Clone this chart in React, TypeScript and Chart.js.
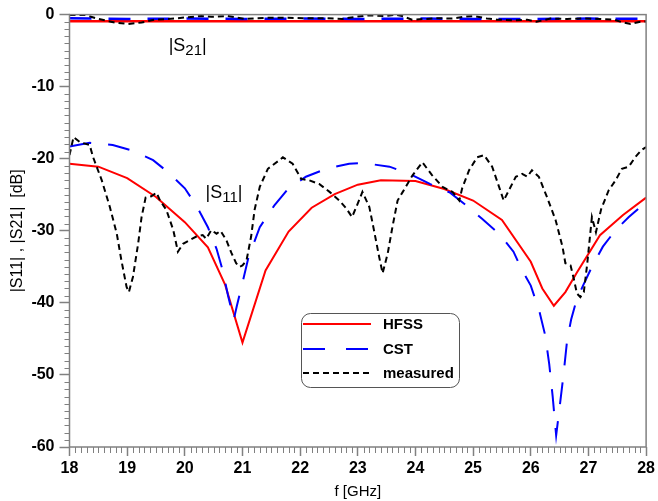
import React, { useEffect, useRef } from "react";
import { Chart, registerables } from "chart.js";

Chart.register(...registerables);

// ---------- data ----------
const hfssS11Freq = [18.0, 18.5, 19.0, 19.5, 20.0, 20.4, 20.7, 21.0, 21.4, 21.8, 22.2, 22.6, 23.0, 23.4, 24.0, 24.5, 25.0, 25.5, 26.0, 26.2, 26.4, 26.6, 26.8, 27.2, 27.6, 28.0];
const hfssS11Db = [-20.7, -21.1, -22.7, -25.3, -28.8, -32.3, -37.5, -45.5, -35.5, -30.1, -26.8, -24.9, -23.6, -23.0, -23.1, -24.2, -25.8, -28.5, -34.3, -38.0, -40.4, -38.5, -35.8, -30.6, -27.8, -25.4];

const cstS11Freq = [18.0, 18.35, 18.75, 19.1, 19.45, 19.7, 20.0, 20.2, 20.4, 20.55, 20.65, 20.75, 20.85, 20.9, 21.0, 21.1, 21.3, 21.55, 21.8, 22.1, 22.45, 22.85, 23.1, 23.55, 23.9, 24.25, 24.6, 24.9, 25.15, 25.45, 25.7, 25.85, 26.0, 26.15, 26.25, 26.32, 26.38, 26.44, 26.5, 26.57, 26.63, 26.7, 26.78, 26.9, 27.06, 27.25, 27.47, 27.7, 28.0];
const cstS11Db = [-18.3, -17.8, -18.1, -18.9, -20.2, -21.8, -24.1, -26.5, -29.5, -32.5, -35.3, -39.0, -42.3, -40.5, -37.2, -33.8, -29.5, -26.5, -24.1, -22.5, -21.4, -20.7, -20.6, -21.1, -22.1, -23.5, -24.7, -26.6, -28.3, -30.4, -32.9, -35.5, -37.6, -41.2, -44.5, -48.5, -53.0, -58.4, -54.5, -49.8, -45.2, -42.3, -40.0, -37.7, -35.0, -32.2, -29.9, -28.1, -26.0];

const measS11Freq = [18.0, 18.07, 18.18, 18.35, 18.41, 18.56, 18.7, 18.82, 18.9, 18.99, 19.03, 19.1, 19.19, 19.25, 19.32, 19.42, 19.51, 19.57, 19.68, 19.8, 19.88, 19.97, 20.08, 20.2, 20.31, 20.37, 20.46, 20.55, 20.62, 20.72, 20.81, 20.89, 20.95, 21.0, 21.07, 21.15, 21.21, 21.3, 21.44, 21.64, 21.7, 21.87, 22.02, 22.16, 22.33, 22.51, 22.68, 22.8, 22.9, 23.0, 23.08, 23.2, 23.28, 23.37, 23.43, 23.52, 23.6, 23.69, 23.78, 23.95, 24.12, 24.29, 24.47, 24.64, 24.76, 24.81, 24.93, 25.07, 25.19, 25.33, 25.45, 25.53, 25.62, 25.74, 25.85, 25.94, 26.02, 26.14, 26.28, 26.43, 26.55, 26.6, 26.69, 26.75, 26.8, 26.86, 26.92, 26.98, 27.06, 27.13, 27.22, 27.35, 27.47, 27.58, 27.7, 27.81, 27.92, 28.0];
const measS11Db = [-19.5, -17.0, -17.7, -18.1, -19.8, -23.0, -26.7, -30.4, -34.1, -37.8, -38.5, -36.4, -31.8, -28.1, -25.4, -25.2, -24.7, -25.8, -27.1, -29.9, -32.9, -31.8, -31.3, -30.8, -30.6, -31.1, -29.9, -30.4, -30.0, -31.3, -33.1, -34.5, -35.0, -34.8, -34.1, -30.8, -27.1, -23.9, -21.4, -20.2, -19.8, -20.7, -22.8, -23.0, -23.5, -24.6, -25.8, -26.9, -28.1, -26.2, -24.6, -26.7, -29.9, -33.6, -35.9, -33.1, -29.5, -25.8, -24.6, -22.3, -20.5, -22.3, -23.9, -24.6, -25.8, -24.1, -21.6, -19.8, -19.5, -21.1, -23.9, -25.8, -24.4, -22.5, -22.1, -22.5, -21.6, -22.5, -25.3, -28.5, -32.2, -34.5, -34.8, -36.8, -38.7, -39.2, -38.5, -34.5, -28.1, -30.2, -27.0, -24.4, -23.0, -21.4, -21.1, -19.8, -18.8, -18.4];

const hfssS21Freq = [18.0, 28.0];
const hfssS21Db = [-0.93, -0.93];

const cstS21Freq = [18.0, 19.0, 20.0, 21.0, 22.0, 23.0, 24.0, 25.0, 26.0, 27.0, 28.0];
const cstS21Db = [-0.5, -0.6, -0.55, -0.6, -0.55, -0.6, -0.55, -0.6, -0.6, -0.55, -0.6];

const measS21Freq = [18.0, 18.27, 18.5, 18.79, 19.02, 19.25, 19.48, 19.83, 20.0, 20.29, 20.46, 20.74, 21.04, 21.26, 21.41, 21.76, 22.05, 22.45, 22.73, 22.97, 23.2, 23.49, 23.66, 23.77, 23.94, 24.18, 24.41, 24.64, 24.84, 25.02, 25.24, 25.41, 25.7, 25.94, 26.1, 26.34, 26.63, 26.92, 27.2, 27.44, 27.6, 27.73, 27.9, 28.0];
const measS21Db = [-0.05, -0.05, -0.6, -1.1, -1.3, -1.1, -0.7, -0.55, -0.4, -0.2, -0.3, -0.2, -0.6, -0.5, -0.45, -0.45, -0.5, -0.5, -0.6, -0.3, -0.1, -0.2, 0.0, -0.2, -0.7, -0.6, -0.5, -0.55, -0.3, -0.2, -0.55, -0.7, -0.8, -0.7, -1.0, -0.55, -0.6, -0.55, -0.6, -0.7, -1.1, -1.3, -1.0, -0.95];

const legendLabels = ["HFSS", "CST", "measured"];
const xTickMin = 18;
const xTickMax = 28;
const yTickMin = -60;
const yTickMax = 0;

// ---------- styles ----------
const RED = "#ff0000";
const BLUE = "#0000ff";
const BLACK = "#000000";
const AXIS = "#808080";
const FONT = "'Liberation Sans', Arial, Helvetica, sans-serif";
const DASH_CST = [22, 17];
const DASH_MEAS = [6, 4];

const pts = (xs: number[], ys: number[]) => xs.map((x, i) => ({ x, y: ys[i] }));

const decorPlugin = {
  id: "decor",
  afterDraw(chart: any) {
    const { ctx, chartArea: a, scales } = chart;
    const xs = scales.x;
    const ys = scales.y;
    ctx.save();
    // frame
    ctx.strokeStyle = AXIS;
    ctx.lineWidth = 1.5;
    ctx.setLineDash([]);
    ctx.strokeRect(a.left, a.top, a.right - a.left, a.bottom - a.top);
    // minor ticks
    ctx.lineWidth = 1;
    ctx.beginPath();
    for (let v = yTickMin; v <= yTickMax; v += 1) {
      if (v % 10 === 0) continue;
      const py = Math.round(ys.getPixelForValue(v)) + 0.5;
      ctx.moveTo(a.left - 5, py);
      ctx.lineTo(a.left, py);
    }
    for (let i = 0; i <= (xTickMax - xTickMin) * 10; i++) {
      if (i % 10 === 0) continue;
      const px = Math.round(xs.getPixelForValue(xTickMin + i / 10)) + 0.5;
      ctx.moveTo(px, a.bottom);
      ctx.lineTo(px, a.bottom + 6);
    }
    ctx.stroke();

    // annotations |S21| and |S11|
    const drawS = (label: string, fx: number, fy: number) => {
      let px = xs.getPixelForValue(fx);
      const py = ys.getPixelForValue(fy);
      ctx.fillStyle = BLACK;
      ctx.textBaseline = "alphabetic";
      ctx.textAlign = "left";
      ctx.font = `18px ${FONT}`;
      ctx.fillText("|S", px, py);
      px += ctx.measureText("|S").width;
      ctx.font = `15px ${FONT}`;
      ctx.fillText(label, px, py + 4);
      px += ctx.measureText(label).width;
      ctx.font = `18px ${FONT}`;
      ctx.fillText("|", px, py);
    };
    drawS("21", 19.72, -5.0);
    drawS("11", 20.36, -25.5);

    // legend box
    const bx = 301, by = 313, bw = 158, bh = 74;
    ctx.beginPath();
    ctx.fillStyle = "#ffffff";
    ctx.strokeStyle = "#555555";
    ctx.lineWidth = 1;
    ctx.roundRect(bx + 0.5, by + 0.5, bw, bh, 9);
    ctx.fill();
    ctx.stroke();
    const styles = [
      { color: RED, dash: [] as number[] },
      { color: BLUE, dash: [22, 21] },
      { color: BLACK, dash: DASH_MEAS },
    ];
    const rows = [324, 349, 373];
    legendLabels.forEach((lab, i) => {
      ctx.beginPath();
      ctx.strokeStyle = styles[i].color;
      ctx.lineWidth = 2;
      ctx.setLineDash(styles[i].dash);
      ctx.moveTo(303, rows[i]);
      ctx.lineTo(371, rows[i]);
      ctx.stroke();
      ctx.setLineDash([]);
      ctx.fillStyle = BLACK;
      ctx.font = `bold 15px ${FONT}`;
      ctx.textBaseline = "middle";
      ctx.textAlign = "left";
      ctx.fillText(lab, 383, rows[i] + 1);
    });
    ctx.restore();
  },
};

export default function App() {
  const ref = useRef<HTMLCanvasElement | null>(null);
  useEffect(() => {
    document.body.style.margin = "0";
    if (!ref.current) return;
    const common = { pointRadius: 0, fill: false, tension: 0, borderWidth: 2 };
    const chart = new Chart(ref.current, {
      type: "line",
      data: {
        datasets: [
          { ...common, label: "measured", data: pts(measS11Freq, measS11Db), borderColor: BLACK, borderDash: DASH_MEAS, order: 0 },
          { ...common, label: "measured S21", data: pts(measS21Freq, measS21Db), borderColor: BLACK, borderDash: DASH_MEAS, order: 0 },
          { ...common, label: "CST", data: pts(cstS11Freq, cstS11Db), borderColor: BLUE, borderDash: DASH_CST, order: 1 },
          { ...common, label: "CST S21", data: pts(cstS21Freq, cstS21Db), borderColor: BLUE, borderDash: DASH_CST, borderWidth: 2.5, order: 1 },
          { ...common, label: "HFSS", data: pts(hfssS11Freq, hfssS11Db), borderColor: RED, order: 2 },
          { ...common, label: "HFSS S21", data: pts(hfssS21Freq, hfssS21Db), borderColor: RED, borderWidth: 2.5, order: 2 },
        ],
      },
      options: {
        animation: false,
        responsive: false,
        maintainAspectRatio: false,
        layout: { padding: { left: 0, right: 11, top: 14, bottom: 0 } },
        plugins: { legend: { display: false }, tooltip: { enabled: false } },
        scales: {
          x: {
            type: "linear",
            min: xTickMin,
            max: xTickMax,
            ticks: { stepSize: 1, color: BLACK, font: { family: FONT, size: 16, weight: "bold" }, padding: 3, maxRotation: 0 },
            grid: { drawOnChartArea: false, drawTicks: true, tickLength: 9, color: AXIS, tickWidth: 1.5 },
            border: { display: false },
            title: { display: true, text: "f [GHz]", color: BLACK, font: { family: FONT, size: 15 }, padding: { top: 0, bottom: 0 } },
            afterFit: (s: any) => { s.height = 54; },
          },
          y: {
            type: "linear",
            min: yTickMin,
            max: yTickMax,
            ticks: { stepSize: 10, color: BLACK, font: { family: FONT, size: 16, weight: "bold" }, padding: 5 },
            grid: { drawOnChartArea: false, drawTicks: true, tickLength: 10, color: AXIS, tickWidth: 1.5 },
            border: { display: false },
            title: { display: true, text: "|S11| , |S21|  [dB]", color: BLACK, font: { family: FONT, size: 16 }, padding: { top: 8, bottom: 0 } },
            afterFit: (s: any) => { s.width = 69.5; },
          },
        },
      },
      plugins: [decorPlugin],
    } as any);
    return () => chart.destroy();
  }, []);
  return (
    <div style={{ position: "fixed", left: 0, top: 0, width: 658, height: 501, background: "#fff" }}>
      <canvas ref={ref} width={658} height={501} style={{ width: 658, height: 501, display: "block" }} />
    </div>
  );
}
